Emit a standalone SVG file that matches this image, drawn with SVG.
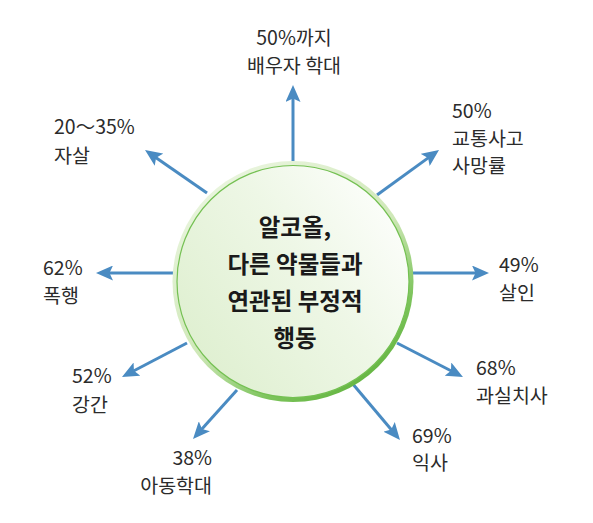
<svg xmlns="http://www.w3.org/2000/svg" width="593" height="523" viewBox="0 0 593 523">
  <style>
    .lbl { font-family: "Noto Sans CJK KR", "Noto Sans", sans-serif; font-size: 19.5px; fill: #2b2b2b; font-weight: 400; }
    .ctr { font-family: "Noto Sans CJK KR", "Noto Sans", sans-serif; font-size: 23.5px; fill: #1a1a1a; font-weight: 700; text-anchor: middle; }
    .arr { stroke: #4a8bc2; stroke-width: 3; fill: none; marker-end: url(#ah); }
  </style>
  <defs>
    <marker id="ah" markerUnits="userSpaceOnUse" markerWidth="17" markerHeight="15" refX="4" refY="7.5" orient="auto" viewBox="0 0 17 15">
      <path d="M0,0 L17,7.5 L0,15 L3.5,7.5 z" fill="#4a8bc2"/>
    </marker>
    <linearGradient id="ring" x1="0.2" y1="0.1" x2="0.8" y2="0.95">
      <stop offset="0" stop-color="#e8f4dc"/>
      <stop offset="0.5" stop-color="#cfe8b8"/>
      <stop offset="0.8" stop-color="#7dc45c"/>
      <stop offset="1" stop-color="#62b43f"/>
    </linearGradient>
    <linearGradient id="fill" x1="0" y1="0.8" x2="1" y2="0.1">
      <stop offset="0" stop-color="#deefcf"/>
      <stop offset="0.55" stop-color="#eef7e6"/>
      <stop offset="1" stop-color="#ffffff"/>
    </linearGradient>
  </defs>

  <g id="connectors">
    <line class="arr" x1="293" y1="161" x2="293" y2="98"/>
    <line class="arr" x1="207" y1="193" x2="155.7" y2="157.4"/>
    <line class="arr" x1="377" y1="195" x2="428.5" y2="157.6"/>
    <line class="arr" x1="173" y1="273" x2="109" y2="273"/>
    <line class="arr" x1="413" y1="273" x2="476" y2="273"/>
    <line class="arr" x1="187" y1="343" x2="133.5" y2="371"/>
    <line class="arr" x1="237" y1="390" x2="201.7" y2="429.3"/>
    <line class="arr" x1="397" y1="343" x2="451.4" y2="371"/>
    <line class="arr" x1="352" y1="383" x2="391.6" y2="430"/>
  </g>

  <g id="center">
    <circle cx="293" cy="281.5" r="120.5" fill="url(#ring)"/>
    <circle cx="293" cy="281.5" r="116" fill="url(#fill)" stroke="#74c052" stroke-width="1.2"/>
    <text class="ctr" x="295" y="236">알코올,</text>
    <text class="ctr" x="295" y="273">다른 약물들과</text>
    <text class="ctr" x="295" y="310">연관된 부정적</text>
    <text class="ctr" x="295" y="347">행동</text>
  </g>

  <g id="spouse">
    <text class="lbl" x="294" y="45" text-anchor="middle">50%까지</text>
    <text class="lbl" x="294" y="73" text-anchor="middle">배우자 학대</text>
  </g>
  <g id="suicide">
    <text class="lbl" x="54" y="134">20～35%</text>
    <text class="lbl" x="54" y="163">자살</text>
  </g>
  <g id="traffic">
    <text class="lbl" x="452" y="118">50%</text>
    <text class="lbl" x="452" y="146">교통사고</text>
    <text class="lbl" x="452" y="173">사망률</text>
  </g>
  <g id="assault">
    <text class="lbl" x="43" y="275">62%</text>
    <text class="lbl" x="43" y="303">폭행</text>
  </g>
  <g id="murder">
    <text class="lbl" x="499" y="272">49%</text>
    <text class="lbl" x="499" y="300">살인</text>
  </g>
  <g id="rape">
    <text class="lbl" x="72" y="383">52%</text>
    <text class="lbl" x="72" y="412">강간</text>
  </g>
  <g id="childabuse">
    <text class="lbl" x="212" y="465" text-anchor="end">38%</text>
    <text class="lbl" x="212" y="493" text-anchor="end">아동학대</text>
  </g>
  <g id="manslaughter">
    <text class="lbl" x="476" y="375">68%</text>
    <text class="lbl" x="476" y="403">과실치사</text>
  </g>
  <g id="drowning">
    <text class="lbl" x="412" y="443">69%</text>
    <text class="lbl" x="412" y="470">익사</text>
  </g>
</svg>
